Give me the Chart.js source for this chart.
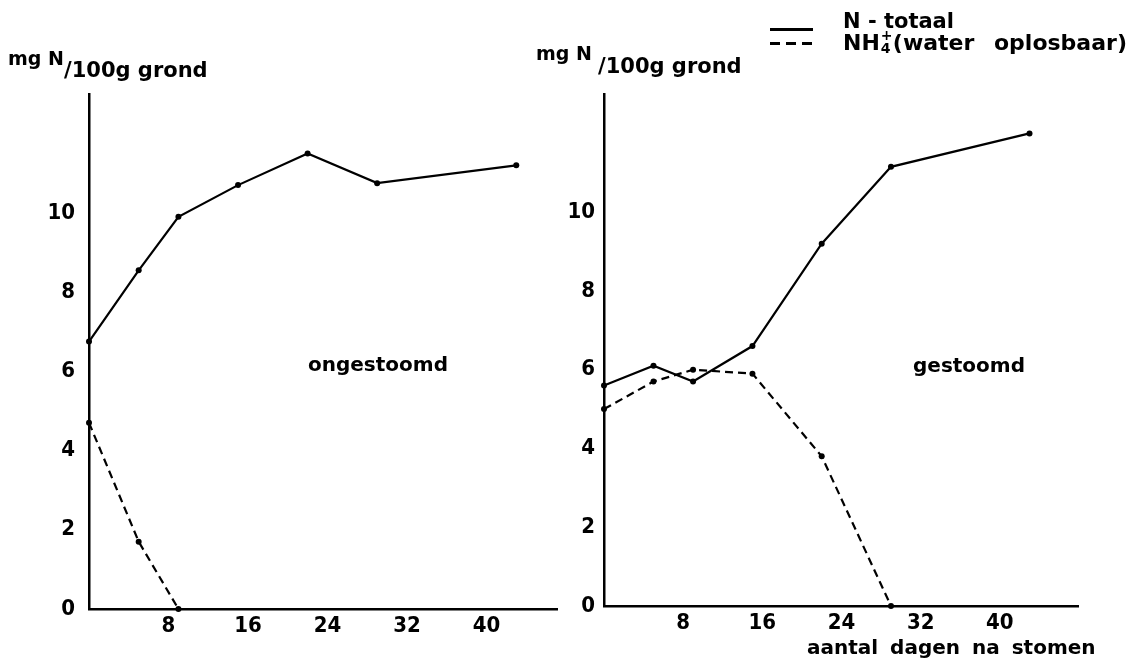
<!DOCTYPE html>
<html>
<head>
<meta charset="utf-8">
<script src="https://cdn.jsdelivr.net/npm/chart.js@4/dist/chart.umd.min.js"></script>
<style>
  html, body { margin: 0; padding: 0; background: #fff; }
  body { width: 1142px; height: 670px; position: relative; overflow: hidden; }
  canvas { position: absolute; top: 0; }
  .t {
    position: absolute; white-space: nowrap; color: #000;
    font-family: "DejaVu Sans", sans-serif; font-weight: bold; line-height: 1;
  }
  .ion { display: inline-block; position: relative; width: 13px; height: 1em; vertical-align: baseline; }
  .ion span { position: absolute; left: 1px; font-size: 14px; line-height: 1; }
  .key { position: absolute; left: 770px; width: 43px; height: 2.5px; }
</style>
</head>
<body>
<canvas id="leftChart" width="575" height="670" style="left:0"></canvas>
<canvas id="rightChart" width="622" height="670" style="left:520px"></canvas>

<!-- axis titles -->
<div class="t" style="left:8px; top:49px; font-size:19px">mg N</div>
<div class="t" style="left:64px; top:60px; font-size:21px">/100g grond</div>
<div class="t" style="left:536px; top:44px; font-size:19px">mg N</div>
<div class="t" style="left:598px; top:56px; font-size:21px">/100g grond</div>

<!-- panel labels -->
<div class="t" style="left:308px; top:354px; font-size:20px">ongestoomd</div>
<div class="t" style="left:913px; top:355px; font-size:20px">gestoomd</div>
<div class="t" style="left:807px; top:637px; font-size:20px; word-spacing:5px">aantal dagen na stomen</div>

<!-- legend -->
<div class="key" style="top:28px; background:#000"></div>
<div class="key" style="top:42px; background:repeating-linear-gradient(90deg,#000 0 10px,transparent 10px 16px)"></div>
<div class="t" style="left:843px; top:11px; font-size:21px">N - totaal</div>
<div class="t" style="left:843px; top:28px; font-size:22px; word-spacing:12px">NH<span class="ion"><span style="top:0px">+</span><span style="top:13px">4</span></span>(water oplosbaar)</div>

<script>
// Data (days after steaming, mg N per 100 g soil)
const days = [0, 5, 9, 15, 22, 29, 43];
const totaalOngestoomd = [6.75, 8.55, 9.9, 10.7, 11.5, 10.75, 11.2];
const nh4Ongestoomd = [4.7, 1.7, 0];
const totaalGestoomd = [5.6, 6.1, 5.7, 6.6, 9.2, 11.15, 12.0];
const nh4Gestoomd = [5.0, 5.7, 6.0, 5.9, 3.8, 0];
const xTicks = [8, 16, 24, 32, 40];
const yTicks = [0, 2, 4, 6, 8, 10];

const tickFont = { family: "'DejaVu Sans Condensed', 'DejaVu Sans', sans-serif", size: 22, weight: "bold" };

function points(values) {
  return values.map((v, i) => ({ x: days[i], y: v }));
}

function lineSet(values, dashed) {
  return {
    data: points(values),
    borderColor: "#000",
    backgroundColor: "#000",
    borderWidth: 2.2,
    borderDash: dashed ? [8, 5] : [],
    pointRadius: 3,
    pointHoverRadius: 3,
    pointBackgroundColor: "#000",
    pointBorderWidth: 0,
    tension: 0,
    clip: false,
  };
}

function makePanel(id, totaal, nh4, cfg) {
  const ctx = document.getElementById(id).getContext("2d");
  return new Chart(ctx, {
    type: "line",
    data: { datasets: [lineSet(totaal, false), lineSet(nh4, true)] },
    options: {
      responsive: false,
      animation: false,
      events: [],
      layout: { padding: { left: 0, top: 94, right: cfg.padRight, bottom: 0 } },
      plugins: { legend: { display: false }, tooltip: { enabled: false } },
      scales: {
        x: {
          type: "linear",
          min: 0,
          max: cfg.xMax,
          afterBuildTicks: (s) => { s.ticks = xTicks.map((v) => ({ value: v })); },
          afterFit: (s) => { s.height = cfg.xHeight; },
          grid: { display: false, drawTicks: false },
          border: { display: true, color: "#000", width: 2.5 },
          ticks: { color: "#000", font: tickFont, padding: 4, maxRotation: 0, autoSkip: false },
        },
        y: {
          min: 0,
          max: 13,
          afterBuildTicks: (s) => { s.ticks = yTicks.map((v) => ({ value: v })); },
          afterFit: (s) => { s.width = cfg.yWidth; },
          grid: { display: false, drawTicks: false },
          border: { display: true, color: "#000", width: 2.5 },
          ticks: { color: "#000", font: tickFont, padding: cfg.yPad, autoSkip: false },
        },
      },
    },
  });
}

// Left: ongestoomd
makePanel("leftChart", totaalOngestoomd, nh4Ongestoomd, {
  xMax: 47.1, padRight: 18, xHeight: 61, yWidth: 89, yPad: 14,
});

// Right: gestoomd
makePanel("rightChart", totaalGestoomd, nh4Gestoomd, {
  xMax: 47.9, padRight: 64, xHeight: 64, yWidth: 84, yPad: 9,
});
</script>
</body>
</html>
